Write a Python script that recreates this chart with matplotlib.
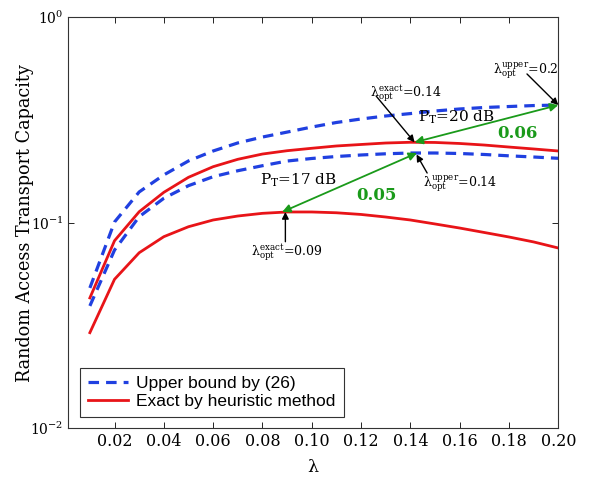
import numpy as np
import matplotlib
matplotlib.use("Agg")
import matplotlib.pyplot as plt

plt.rcParams['font.family'] = ['DejaVu Serif']
plt.rcParams['mathtext.fontset'] = 'dejavuserif'

lam = [0.01, 0.02, 0.03, 0.04, 0.05, 0.06, 0.07, 0.08, 0.09, 0.10,
       0.11, 0.12, 0.13, 0.14, 0.15, 0.16, 0.17, 0.18, 0.19, 0.20]

# P_T = 20 dB
upper_20 = [0.0482, 0.1009, 0.1413, 0.1710, 0.2000, 0.2236, 0.2447, 0.2614, 0.2763, 0.2924,
            0.3077, 0.3200, 0.3310, 0.3400, 0.3500, 0.3580, 0.3640, 0.3680, 0.3720, 0.3740]
exact_20 = [0.0431, 0.0818, 0.1132, 0.1407, 0.1665, 0.1875, 0.2037, 0.2161, 0.2243, 0.2305,
            0.2365, 0.2405, 0.2445, 0.2465, 0.2460, 0.2432, 0.2390, 0.2337, 0.2287, 0.2236]
# P_T = 17 dB
upper_17 = [0.0394, 0.0737, 0.1071, 0.1316, 0.1516, 0.1676, 0.1792, 0.1896, 0.1998, 0.2056,
            0.2102, 0.2138, 0.2167, 0.2186, 0.2186, 0.2174, 0.2150, 0.2118, 0.2090, 0.2060]
exact_17 = [0.0292, 0.0531, 0.0715, 0.0856, 0.0957, 0.1032, 0.1079, 0.1112, 0.1129, 0.1129,
            0.1119, 0.1098, 0.1067, 0.1032, 0.0987, 0.0943, 0.0897, 0.0853, 0.0807, 0.0754]

xticks = [0.02, 0.04, 0.06, 0.08, 0.10, 0.12, 0.14, 0.16, 0.18, 0.20]

blue = '#2040e0'
red = '#e81418'
green = '#1a9a1a'

fig = plt.figure(figsize=(6, 4.9), dpi=100)
ax = fig.add_axes([0.1128, 0.1259, 0.8177, 0.8388])

dash = (0, (3.3, 2.2))
ax.semilogy(lam, upper_20, color=blue, lw=2.3, linestyle=dash, label='Upper bound by (26)')
ax.semilogy(lam, exact_20, color=red, lw=2.0, label='Exact by heuristic method')
ax.semilogy(lam, upper_17, color=blue, lw=2.3, linestyle=dash)
ax.semilogy(lam, exact_17, color=red, lw=2.0)

ax.set_xlim(0.001, 0.2)
ax.set_ylim(1e-2, 1e0)
ax.set_xticks(xticks)
ax.set_xticklabels(['%.2f' % t for t in xticks])
ax.yaxis.set_minor_locator(matplotlib.ticker.NullLocator())
ax.tick_params(direction='in', top=True, right=True, length=4, width=0.6)
ax.tick_params(axis='x', labelsize=11.5)
ax.tick_params(axis='y', labelsize=10, pad=3)
for s in ax.spines.values():
    s.set_linewidth(0.8)
    s.set_color('#333333')

ax.set_xlabel('λ', fontsize=12.5, labelpad=6)
ax.set_ylabel('Random Access Transport Capacity', fontsize=12.7)
ax.yaxis.set_label_coords(-0.069, 0.5)

leg = ax.legend(loc='lower left', bbox_to_anchor=(0.025, 0.027), borderaxespad=0,
                fancybox=False, edgecolor='#333333', framealpha=1, handlelength=2.3,
                prop={'family': 'Liberation Sans', 'size': 12.5},
                borderpad=0.45, labelspacing=0.2, handletextpad=0.5)
leg.get_frame().set_linewidth(0.8)

# black pointer arrows
blk = dict(arrowstyle='-|>', color='black', lw=1.0, mutation_scale=10, shrinkA=0, shrinkB=0)
ax.annotate('', xy=(0.20, 0.374), xytext=(0.1873, 0.530), arrowprops=blk)
ax.annotate('', xy=(0.1417, 0.2465), xytext=(0.1261, 0.414), arrowprops=blk)
ax.annotate('', xy=(0.1425, 0.2150), xytext=(0.1468, 0.1747), arrowprops=blk)
ax.annotate('', xy=(0.0893, 0.1129), xytext=(0.0893, 0.0809), arrowprops=blk)

# green double arrows
grn = dict(arrowstyle='<|-|>', color=green, lw=1.3, mutation_scale=12, shrinkA=0, shrinkB=0)
ax.annotate('', xy=(0.20, 0.374), xytext=(0.1417, 0.2465), arrowprops=grn)
ax.annotate('', xy=(0.1427, 0.2186), xytext=(0.088, 0.1129), arrowprops=grn)

fs = 9
ax.text(0.1867, 0.548, r'$\mathrm{\lambda}_{\rm opt}^{\rm upper}$=0.2', fontsize=fs, ha='center', va='center')
ax.text(0.1383, 0.428, r'$\mathrm{\lambda}_{\rm opt}^{\rm exact}$=0.14', fontsize=fs, ha='center', va='center')
ax.text(0.160, 0.156, r'$\mathrm{\lambda}_{\rm opt}^{\rm upper}$=0.14', fontsize=fs, ha='center', va='center')
ax.text(0.09, 0.0713, r'$\mathrm{\lambda}_{\rm opt}^{\rm exact}$=0.09', fontsize=fs, ha='center', va='center')

ax.text(0.1586, 0.327, r'P$_{\rm T}$=20 dB', fontsize=11, ha='center', va='center')
ax.text(0.0946, 0.1615, r'P$_{\rm T}$=17 dB', fontsize=11, ha='center', va='center')
ax.text(0.1833, 0.2705, '0.06', fontsize=12, fontweight='bold', color=green, ha='center', va='center')
ax.text(0.1263, 0.1358, '0.05', fontsize=12, fontweight='bold', color=green, ha='center', va='center')

fig.savefig('out.png', dpi=100)
